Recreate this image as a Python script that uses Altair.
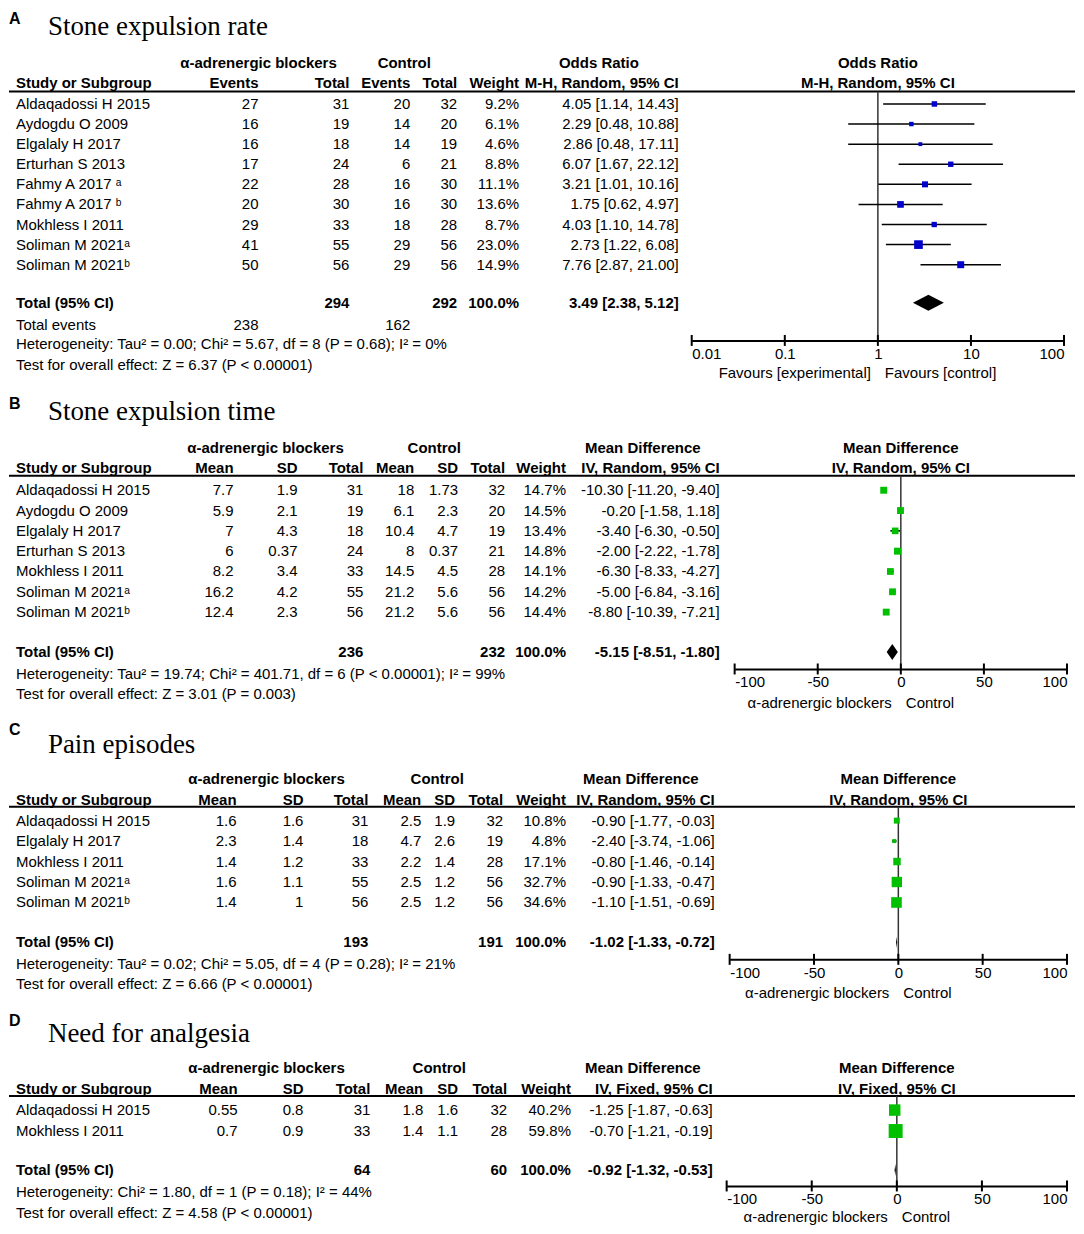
import altair as alt
import pandas as pd

FONT = "Liberation Sans"
SERIF = "Liberation Serif"
FS = 15
W = 1068          # chart width
XO = 8            # page margin: reference x -> chart x

# ---------------- Panel A: Stone expulsion rate ----------------
A_studies = ["Aldaqadossi H 2015", "Aydogdu O 2009", "Elgalaly H 2017", "Erturhan S 2013",
             "Fahmy A 2017 ᵃ", "Fahmy A 2017 ᵇ", "Mokhless I 2011", "Soliman M 2021ᵃ", "Soliman M 2021ᵇ"]
A_exp_events = [27, 16, 16, 17, 22, 20, 29, 41, 50]
A_exp_total = [31, 19, 18, 24, 28, 30, 33, 55, 56]
A_ctl_events = [20, 14, 14, 6, 16, 16, 18, 29, 29]
A_ctl_total = [32, 20, 19, 21, 30, 30, 28, 56, 56]
A_weight = [9.2, 6.1, 4.6, 8.8, 11.1, 13.6, 8.7, 23.0, 14.9]
A_est = [4.05, 2.29, 2.86, 6.07, 3.21, 1.75, 4.03, 2.73, 7.76]
A_lo = [1.14, 0.48, 0.48, 1.67, 1.01, 0.62, 1.10, 1.22, 2.87]
A_hi = [14.43, 10.88, 17.11, 22.12, 10.16, 4.97, 14.78, 6.08, 21.00]
A_tot_n = [294, 292]
A_tot_events = [238, 162]
A_tot_ci = [3.49, 2.38, 5.12]
A_het = "Heterogeneity: Tau² = 0.00; Chi² = 5.67, df = 8 (P = 0.68); I² = 0%"
A_test = "Test for overall effect: Z = 6.37 (P < 0.00001)"

# ---------------- Panel B: Stone expulsion time ----------------
B_studies = ["Aldaqadossi H 2015", "Aydogdu O 2009", "Elgalaly H 2017", "Erturhan S 2013",
             "Mokhless I 2011", "Soliman M 2021ᵃ", "Soliman M 2021ᵇ"]
B_exp_mean = [7.7, 5.9, 7, 6, 8.2, 16.2, 12.4]
B_exp_sd = [1.9, 2.1, 4.3, 0.37, 3.4, 4.2, 2.3]
B_exp_n = [31, 19, 18, 24, 33, 55, 56]
B_ctl_mean = [18, 6.1, 10.4, 8, 14.5, 21.2, 21.2]
B_ctl_sd = [1.73, 2.3, 4.7, 0.37, 4.5, 5.6, 5.6]
B_ctl_n = [32, 20, 19, 21, 28, 56, 56]
B_weight = [14.7, 14.5, 13.4, 14.8, 14.1, 14.2, 14.4]
B_est = [-10.30, -0.20, -3.40, -2.00, -6.30, -5.00, -8.80]
B_lo = [-11.20, -1.58, -6.30, -2.22, -8.33, -6.84, -10.39]
B_hi = [-9.40, 1.18, -0.50, -1.78, -4.27, -3.16, -7.21]
B_tot_n = [236, 232]
B_tot_ci = [-5.15, -8.51, -1.80]
B_het = "Heterogeneity: Tau² = 19.74; Chi² = 401.71, df = 6 (P < 0.00001); I² = 99%"
B_test = "Test for overall effect: Z = 3.01 (P = 0.003)"

# ---------------- Panel C: Pain episodes ----------------
C_studies = ["Aldaqadossi H 2015", "Elgalaly H 2017", "Mokhless I 2011", "Soliman M 2021ᵃ", "Soliman M 2021ᵇ"]
C_exp_mean = [1.6, 2.3, 1.4, 1.6, 1.4]
C_exp_sd = [1.6, 1.4, 1.2, 1.1, 1]
C_exp_n = [31, 18, 33, 55, 56]
C_ctl_mean = [2.5, 4.7, 2.2, 2.5, 2.5]
C_ctl_sd = [1.9, 2.6, 1.4, 1.2, 1.2]
C_ctl_n = [32, 19, 28, 56, 56]
C_weight = [10.8, 4.8, 17.1, 32.7, 34.6]
C_est = [-0.90, -2.40, -0.80, -0.90, -1.10]
C_lo = [-1.77, -3.74, -1.46, -1.33, -1.51]
C_hi = [-0.03, -1.06, -0.14, -0.47, -0.69]
C_tot_n = [193, 191]
C_tot_ci = [-1.02, -1.33, -0.72]
C_het = "Heterogeneity: Tau² = 0.02; Chi² = 5.05, df = 4 (P = 0.28); I² = 21%"
C_test = "Test for overall effect: Z = 6.66 (P < 0.00001)"

# ---------------- Panel D: Need for analgesia ----------------
D_studies = ["Aldaqadossi H 2015", "Mokhless I 2011"]
D_exp_mean = [0.55, 0.7]
D_exp_sd = [0.8, 0.9]
D_exp_n = [31, 33]
D_ctl_mean = [1.8, 1.4]
D_ctl_sd = [1.6, 1.1]
D_ctl_n = [32, 28]
D_weight = [40.2, 59.8]
D_est = [-1.25, -0.70]
D_lo = [-1.87, -1.21]
D_hi = [-0.63, -0.19]
D_tot_n = [64, 60]
D_tot_ci = [-0.92, -1.32, -0.53]
D_het = "Heterogeneity: Chi² = 1.80, df = 1 (P = 0.18); I² = 44%"
D_test = "Test for overall effect: Z = 4.58 (P < 0.00001)"

GROUP = "α-adrenergic blockers"


def ci_text(e, l, h):
    return f"{e:.2f} [{l:.2f}, {h:.2f}]"


def pct(w):
    return f"{w:.1f}%"


def s(vals):
    return [str(v) for v in vals]


def panel(cfg):
    top, bot, y0, step = cfg["top"], cfg["bottom"], cfg["y0"], cfg["step"]
    H = bot - top
    R = cfg["rows"]
    ys = alt.Scale(domain=[(top - y0) / step, (bot - y0) / step], reverse=True, nice=False, zero=False)
    n = len(cfg["studies"])
    idx = list(range(n))
    xr = cfg["xrange"]
    if cfg["xtype"] == "log":
        xs = alt.Scale(type="log", domain=cfg["xdomain"], range=[xr[0] - XO, xr[1] - XO], nice=False)
    else:
        xs = alt.Scale(type="linear", domain=cfg["xdomain"], range=[xr[0] - XO, xr[1] - XO],
                       nice=False, zero=False)
    axis_local = y0 + step * R["axis"] - top
    xaxis = alt.Axis(orient="bottom", offset=axis_local - H, values=cfg["ticks"],
                     labelExpr="'' + datum.value", labelFlush=True, ticks=False, tickSize=0,
                     domain=True, domainColor="black", domainWidth=2, labelFont=FONT,
                     labelFontSize=FS, labelColor="black", labelPadding=6, grid=False,
                     title=None, labelOverlap=False)

    def X(f):
        return alt.X(f, scale=xs, axis=xaxis)

    def Y(f):
        return alt.Y(f, scale=ys, axis=None)

    def txt(rows, texts, x, align="right", bold=False, size=FS, font=FONT):
        d = pd.DataFrame({"r": rows, "t": texts})
        return alt.Chart(d).mark_text(align=align, baseline="middle", font=font, fontSize=size,
                                      fontWeight="bold" if bold else "normal", color="black").encode(
            x=alt.value(x - XO), y=Y("r:Q"), text="t:N")

    layers = []
    # header line
    hl = pd.DataFrame({"a": [R["hline"]]})
    layers.append(alt.Chart(hl).mark_rule(color="black", strokeWidth=2).encode(
        x=alt.value(0), x2=alt.value(W), y=Y("a:Q")))
    # null line
    nl = pd.DataFrame({"v": [cfg["null"]], "a": [R["hline"]], "b": [R["axis"]]})
    layers.append(alt.Chart(nl).mark_rule(color="#333333", strokeWidth=1.5).encode(
        x=X("v:Q"), y=Y("a:Q"), y2="b:Q"))
    # tick stubs crossing the axis line
    d = 5.5 / step
    k = len(cfg["ticks"])
    tk = pd.DataFrame({"v": cfg["ticks"], "a": [R["axis"] - d] * k, "b": [R["axis"] + d] * k})
    layers.append(alt.Chart(tk).mark_rule(color="black", strokeWidth=2).encode(
        x=X("v:Q"), y=Y("a:Q"), y2="b:Q"))
    # confidence intervals and squares
    fd = pd.DataFrame({"r": idx, "est": cfg["est"], "lo": cfg["lo"], "hi": cfg["hi"], "w": cfg["weight"]})
    layers.append(alt.Chart(fd).mark_rule(color="black", strokeWidth=1.5).encode(
        x=X("lo:Q"), x2="hi:Q", y=Y("r:Q")))
    layers.append(alt.Chart(fd).mark_square(filled=True, opacity=1, color=cfg["color"]).encode(
        x=X("est:Q"), y=Y("r:Q"),
        size=alt.Size("w:Q", scale=alt.Scale(domain=[0, max(cfg["weight"])],
                                             range=[0, cfg["smax"] ** 2]), legend=None)))
    # diamond
    te, tlo, thi = cfg["tot_ci"]
    h = cfg["dh"] / step
    rt = R["total"]
    dm = pd.DataFrame({"x": [tlo, te, thi], "y1": [rt, rt - h, rt], "y2": [rt, rt + h, rt]})
    layers.append(alt.Chart(dm).mark_area(color="black", orient="vertical", interpolate="linear").encode(
        x=X("x:Q"), y=Y("y1:Q"), y2="y2:Q"))
    # forest headers
    fh = pd.DataFrame({"v": [cfg["null"], cfg["null"]], "r": [R["h1"], R["h2"]], "t": cfg["forest_hdr"]})
    layers.append(alt.Chart(fh).mark_text(align="center", baseline="middle", font=FONT, fontSize=FS,
                                          fontWeight="bold", color="black").encode(
        x=X("v:Q"), y=Y("r:Q"), text="t:N"))
    # favours labels
    fv = pd.DataFrame({"v": [cfg["null"]], "r": [R["fav"]]})
    layers.append(alt.Chart(fv).mark_text(align="right", baseline="middle", font=FONT, fontSize=FS,
                                          color="black", dx=cfg["fav_dx"][0]).encode(
        x=X("v:Q"), y=Y("r:Q"), text=alt.value(cfg["fav"][0])))
    layers.append(alt.Chart(fv).mark_text(align="left", baseline="middle", font=FONT, fontSize=FS,
                                          color="black", dx=cfg["fav_dx"][1]).encode(
        x=X("v:Q"), y=Y("r:Q"), text=alt.value(cfg["fav"][1])))

    # panel letter and title
    layers.append(txt([R["letter"]], [cfg["letter"]], 8, align="left", bold=True, size=16))
    layers.append(txt([R["title"]], [cfg["title"]], 47, align="left", size=27, font=SERIF))
    # study column
    layers.append(txt(idx, cfg["studies"], 15, align="left"))
    layers.append(txt([R["h2"], R["total"]], ["Study or Subgroup", "Total (95% CI)"], 15, align="left", bold=True))
    left_rows = [R["het"], R["test"]]
    left_txt = [cfg["het"], cfg["test"]]
    if "events" in R:
        left_rows.append(R["events"])
        left_txt.append("Total events")
    layers.append(txt(left_rows, left_txt, 15, align="left"))
    # numeric columns
    for col in cfg["cols"]:
        layers.append(txt(idx, col["vals"], col["x"]))
        br, bt = [R["h2"]], [col["hdr"]]
        if col.get("tot") is not None:
            br.append(R["total"])
            bt.append(col["tot"])
        layers.append(txt(br, bt, col["x"], bold=True))
        if col.get("ev") is not None:
            layers.append(txt([R["events"]], [col["ev"]], col["x"]))
    # group headers
    for gx, gt in cfg["groups"]:
        layers.append(txt([R["h1"]], [gt], gx, align="center", bold=True))

    return alt.layer(*layers).properties(width=W, height=H)


pA = panel(dict(
    letter="A", title="Stone expulsion rate", studies=A_studies,
    top=8, bottom=390, y0=103, step=20.13,
    rows=dict(letter=-4.25, title=-3.83, h1=-2.04, h2=-1.04, hline=-0.62, total=9.89, events=10.98,
              het=11.97, test=12.97, axis=11.77, fav=13.41),
    xtype="log", xdomain=[0.01, 100], xrange=[692, 1065], ticks=[0.01, 0.1, 1, 10, 100], null=1,
    est=A_est, lo=A_lo, hi=A_hi, weight=A_weight, color="#0000CC", smax=14,
    tot_ci=A_tot_ci, dh=8,
    forest_hdr=["Odds Ratio", "M-H, Random, 95% CI"],
    fav=["Favours [experimental]", "Favours [control]"], fav_dx=[-7, 7],
    het=A_het, test=A_test,
    cols=[
        dict(x=258, hdr="Events", vals=s(A_exp_events), ev=str(A_tot_events[0])),
        dict(x=349, hdr="Total", vals=s(A_exp_total), tot=str(A_tot_n[0])),
        dict(x=410, hdr="Events", vals=s(A_ctl_events), ev=str(A_tot_events[1])),
        dict(x=457, hdr="Total", vals=s(A_ctl_total), tot=str(A_tot_n[1])),
        dict(x=519, hdr="Weight", vals=[pct(w) for w in A_weight], tot="100.0%"),
        dict(x=679, hdr="M-H, Random, 95% CI",
             vals=[ci_text(e, l, h) for e, l, h in zip(A_est, A_lo, A_hi)], tot=ci_text(*A_tot_ci)),
    ],
    groups=[(258, GROUP), (404, "Control"), (599, "Odds Ratio")],
))

pB = panel(dict(
    letter="B", title="Stone expulsion time", studies=B_studies,
    top=390, bottom=720, y0=490, step=20.35,
    rows=dict(letter=-4.23, title=-3.83, h1=-2.06, h2=-1.08, hline=-0.71, total=7.96,
              het=9.04, test=10.02, axis=8.80, fav=10.47),
    xtype="linear", xdomain=[-100, 100], xrange=[735, 1068], ticks=[-100, -50, 0, 50, 100], null=0,
    est=B_est, lo=B_lo, hi=B_hi, weight=B_weight, color="#00C000", smax=9.5,
    tot_ci=B_tot_ci, dh=8,
    forest_hdr=["Mean Difference", "IV, Random, 95% CI"],
    fav=[GROUP, "Control"], fav_dx=[-9, 5],
    het=B_het, test=B_test,
    cols=[
        dict(x=233, hdr="Mean", vals=s(B_exp_mean)),
        dict(x=297, hdr="SD", vals=s(B_exp_sd)),
        dict(x=363, hdr="Total", vals=s(B_exp_n), tot=str(B_tot_n[0])),
        dict(x=414, hdr="Mean", vals=s(B_ctl_mean)),
        dict(x=458, hdr="SD", vals=s(B_ctl_sd)),
        dict(x=505, hdr="Total", vals=s(B_ctl_n), tot=str(B_tot_n[1])),
        dict(x=566, hdr="Weight", vals=[pct(w) for w in B_weight], tot="100.0%"),
        dict(x=720, hdr="IV, Random, 95% CI",
             vals=[ci_text(e, l, h) for e, l, h in zip(B_est, B_lo, B_hi)], tot=ci_text(*B_tot_ci)),
    ],
    groups=[(265, GROUP), (434, "Control"), (643, "Mean Difference")],
))

pC = panel(dict(
    letter="C", title="Pain episodes", studies=C_studies,
    top=720, bottom=1012, y0=821, step=20.5,
    rows=dict(letter=-4.44, title=-3.71, h1=-2.05, h2=-1.02, hline=-0.68, total=5.95,
              het=7.02, test=8.0, axis=6.78, fav=8.44),
    xtype="linear", xdomain=[-100, 100], xrange=[730, 1068], ticks=[-100, -50, 0, 50, 100], null=0,
    est=C_est, lo=C_lo, hi=C_hi, weight=C_weight, color="#00C000", smax=13,
    tot_ci=C_tot_ci, dh=6,
    forest_hdr=["Mean Difference", "IV, Random, 95% CI"],
    fav=[GROUP, "Control"], fav_dx=[-9, 5],
    het=C_het, test=C_test,
    cols=[
        dict(x=236, hdr="Mean", vals=s(C_exp_mean)),
        dict(x=303, hdr="SD", vals=s(C_exp_sd)),
        dict(x=368, hdr="Total", vals=s(C_exp_n), tot=str(C_tot_n[0])),
        dict(x=421, hdr="Mean", vals=s(C_ctl_mean)),
        dict(x=455, hdr="SD", vals=s(C_ctl_sd)),
        dict(x=503, hdr="Total", vals=s(C_ctl_n), tot=str(C_tot_n[1])),
        dict(x=566, hdr="Weight", vals=[pct(w) for w in C_weight], tot="100.0%"),
        dict(x=715, hdr="IV, Random, 95% CI",
             vals=[ci_text(e, l, h) for e, l, h in zip(C_est, C_lo, C_hi)], tot=ci_text(*C_tot_ci)),
    ],
    groups=[(266, GROUP), (437, "Control"), (641, "Mean Difference")],
))

pD = panel(dict(
    letter="D", title="Need for analgesia", studies=D_studies,
    top=1012, bottom=1222, y0=1111, step=21,
    rows=dict(letter=-4.24, title=-3.62, h1=-2.0, h2=-1.0, hline=-0.67, total=2.86,
              het=3.90, test=4.90, axis=3.62, fav=5.10),
    xtype="linear", xdomain=[-100, 100], xrange=[727, 1068], ticks=[-100, -50, 0, 50, 100], null=0,
    est=D_est, lo=D_lo, hi=D_hi, weight=D_weight, color="#00C000", smax=22,
    tot_ci=D_tot_ci, dh=6,
    forest_hdr=["Mean Difference", "IV, Fixed, 95% CI"],
    fav=[GROUP, "Control"], fav_dx=[-9, 5],
    het=D_het, test=D_test,
    cols=[
        dict(x=237, hdr="Mean", vals=s(D_exp_mean)),
        dict(x=303, hdr="SD", vals=s(D_exp_sd)),
        dict(x=370, hdr="Total", vals=s(D_exp_n), tot=str(D_tot_n[0])),
        dict(x=423, hdr="Mean", vals=s(D_ctl_mean)),
        dict(x=458, hdr="SD", vals=s(D_ctl_sd)),
        dict(x=507, hdr="Total", vals=s(D_ctl_n), tot=str(D_tot_n[1])),
        dict(x=571, hdr="Weight", vals=[pct(w) for w in D_weight], tot="100.0%"),
        dict(x=713, hdr="IV, Fixed, 95% CI",
             vals=[ci_text(e, l, h) for e, l, h in zip(D_est, D_lo, D_hi)], tot=ci_text(*D_tot_ci)),
    ],
    groups=[(266, GROUP), (439, "Control"), (643, "Mean Difference")],
))

chart = alt.vconcat(pA, pB, pC, pD, spacing=0).properties(padding=0).configure_view(stroke=None)
chart.save("out.html", embed_options={"renderer": "svg", "actions": False})
